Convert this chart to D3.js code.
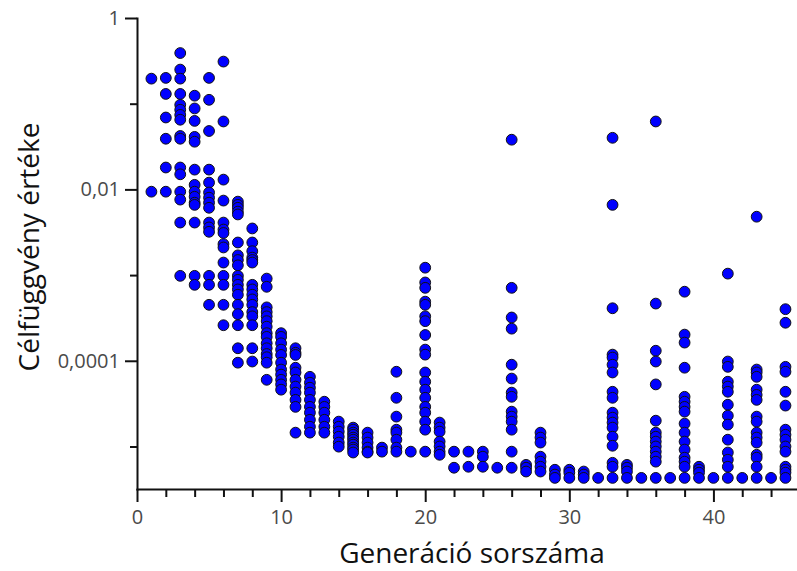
<!DOCTYPE html>
<html>
<head>
<meta charset="utf-8">
<script src="https://cdn.jsdelivr.net/npm/d3@7"></script>
<style>
  body { margin: 0; background: #fff; }
  .axis path, .axis line { stroke: #111; stroke-width: 2; }
  .axis text { fill: #4a4a4a; font-family: "Open Sans", sans-serif; font-size: 20px; font-weight: 500; }
  .title { fill: #111; font-family: "Open Sans", sans-serif; font-size: 28px; font-weight: 500; }
</style>
</head>
<body>
<div id="chart"></div>
<script>
// generation number -> objective function values of the population
const generations = [1, 2, 3, 4, 5, 6, 7, 8, 9, 10, 11, 12, 13, 14, 15, 16, 17, 18, 19, 20, 21, 22, 23,
  24, 25, 26, 27, 28, 29, 30, 31, 32, 33, 34, 35, 36, 37, 38, 39, 40, 41, 42, 43, 44, 45];

const fitness = [
  [0.196, 0.0094],
  [0.2, 0.13, 0.069, 0.039, 0.018, 0.0094],
  [0.39, 0.25, 0.196, 0.13, 0.097, 0.085, 0.074, 0.065, 0.042, 0.039, 0.018, 0.015, 0.0094, 0.0076, 0.0041, 0.00098],
  [0.124, 0.088, 0.063, 0.041, 0.036, 0.017, 0.0113, 0.0094, 0.0082, 0.007, 0.0066, 0.0041, 0.00098, 0.00077],
  [0.2, 0.111, 0.048, 0.017, 0.012, 0.0092, 0.008, 0.007, 0.0061, 0.0041, 0.0036, 0.0032, 0.00098, 0.00077, 0.00045],
  [0.31, 0.062, 0.013, 0.0074, 0.0041, 0.0034, 0.0031, 0.0023, 0.0021, 0.0014, 0.00098, 0.00077, 0.00045, 0.00026],
  [0.0072, 0.0066, 0.0061, 0.0055, 0.0051, 0.0024, 0.0017, 0.0015, 0.0013, 0.00098, 0.00088, 0.00077, 0.00068,
    0.00059, 0.00045, 0.00035, 0.00026, 0.00014, 0.000095],
  [0.0035, 0.0024, 0.0019, 0.0016, 0.0015, 0.0014, 0.00077, 0.00068, 0.00059, 0.00052, 0.00045, 0.00037, 0.00033,
    0.00026, 0.00014, 0.000098],
  [0.00091, 0.00073, 0.00042, 0.00037, 0.00033, 0.00029, 0.00025, 0.00021, 0.00019, 0.00016, 0.00014, 0.00012,
    0.00011, 0.000095, 0.00006],
  [0.00021, 0.00019, 0.00016, 0.000135, 0.000117, 0.000095, 0.000079, 0.000069, 0.00006, 0.000053, 0.000046],
  [0.00014, 0.000124, 0.000117, 0.000083, 0.000073, 0.00006, 0.00005, 0.0000425, 0.000035, 0.000029, 0.0000145],
  [0.000065, 0.0000555, 0.0000485, 0.0000425, 0.000035, 0.000029, 0.0000248, 0.0000205, 0.000017, 0.0000145],
  [0.0000333, 0.000029, 0.0000248, 0.0000205, 0.000017, 0.0000145],
  [0.0000195, 0.000017, 0.0000149, 0.000013, 0.0000111, 0.00000995],
  [0.0000166, 0.0000157, 0.0000145, 0.0000137, 0.0000127, 0.000012, 0.0000111, 0.0000105, 0.0000097, 0.0000092, 0.0000085],
  [0.0000145, 0.0000127, 0.0000111, 0.0000097, 0.0000087, 0.0000085],
  [0.0000097, 0.0000087],
  [0.0000745, 0.000037, 0.0000223, 0.0000157, 0.0000145, 0.000012, 0.0000097, 0.0000087],
  [0.0000087],
  [0.00122, 0.00082, 0.00071, 0.00049, 0.00045, 0.00033, 0.00029, 0.0002, 0.000135, 0.000118, 0.000073, 0.000057,
    0.000046, 0.000037, 0.000029, 0.0000248, 0.0000195, 0.0000157, 0.0000087],
  [0.000019, 0.0000166, 0.0000149, 0.0000114, 0.00001, 0.0000087, 0.000008],
  [0.0000087, 0.00000565],
  [0.0000087, 0.0000058],
  [0.0000087, 0.0000076, 0.0000058],
  [0.00000565],
  [0.038, 0.00071, 0.00032, 0.000237, 0.00009, 0.000062, 0.0000425, 0.000038, 0.0000255, 0.0000223, 0.0000195,
    0.0000157, 0.0000087, 0.00000565],
  [0.0000061, 0.00000565, 0.0000051],
  [0.0000145, 0.0000127, 0.0000111, 0.0000076, 0.00000665, 0.0000058, 0.0000051],
  [0.00000535, 0.0000047, 0.0000043],
  [0.00000535, 0.00000495, 0.0000043],
  [0.0000051, 0.0000047, 0.0000043],
  [0.0000043],
  [0.04, 0.0066, 0.00041, 0.000118, 0.000109, 0.00009, 0.000073, 0.0000435, 0.000037, 0.0000248, 0.0000217,
    0.000019, 0.0000166, 0.000013, 0.0000102, 0.00000645, 0.0000058, 0.0000043],
  [0.0000061, 0.00000565, 0.0000051, 0.0000043],
  [0.0000043],
  [0.062, 0.000465, 0.000131, 0.000098, 0.000053, 0.00002, 0.0000145, 0.000013, 0.0000114, 0.00001, 0.0000087,
    0.0000076, 0.00000665, 0.0000043],
  [0.0000043],
  [0.00064, 0.000202, 0.000163, 0.000083, 0.000038, 0.0000333, 0.000029, 0.0000255, 0.0000185, 0.0000145,
    0.0000114, 0.0000092, 0.0000074, 0.00000665, 0.0000058, 0.0000043],
  [0.0000058, 0.00000535, 0.00000495, 0.0000043],
  [0.0000043],
  [0.00104, 0.000098, 0.000085, 0.000057, 0.00005, 0.0000435, 0.0000307, 0.0000229, 0.000018, 0.000012,
    0.0000085, 0.000007, 0.0000058, 0.0000043],
  [0.0000043],
  [0.0048, 0.000079, 0.000073, 0.000065, 0.000046, 0.00004, 0.000035, 0.0000223, 0.0000195, 0.0000145,
    0.0000127, 0.0000111, 0.000008, 0.0000074, 0.0000058, 0.0000043],
  [0.0000043],
  [0.0004, 0.000278, 0.000085, 0.0000745, 0.0000435, 0.00003, 0.0000157, 0.0000137, 0.000012, 0.00001,
    0.0000087, 0.0000058, 0.00000535, 0.00000495, 0.0000043]
];

const xMajorTicks = [0, 10, 20, 30, 40];
const xMinorTicks = [2, 4, 6, 8, 12, 14, 16, 18, 22, 24, 26, 28, 32, 34, 36, 38, 42, 44];
const yMajorTicks = [1, 0.01, 0.0001];
const yMinorTicks = [0.1, 0.001, 0.00001];
const xLabel = "Generáció sorszáma";
const yLabel = "Célfüggvény értéke";

const width = 797, height = 571;

const points = [];
generations.forEach((g, i) => fitness[i].forEach(v => points.push({ g: g, v: v })));

const svg = d3.select("#chart").append("svg")
  .attr("width", width)
  .attr("height", height);

svg.append("rect").attr("width", width).attr("height", height).attr("fill", "#fff");

const x = d3.scaleLinear().domain([0, 45.8]).range([137, 797]);
const y = d3.scaleLog().domain([3.19e-6, 1]).range([489, 18]);

const huLocale = d3.formatLocale({ decimal: ",", thousands: " ", grouping: [3], currency: ["", " Ft"] });
const yFmt = d => huLocale.format(",")(d);

// points
svg.append("g").selectAll("circle")
  .data(points)
  .enter().append("circle")
  .attr("cx", d => x(d.g))
  .attr("cy", d => y(d.v))
  .attr("r", 5.4)
  .attr("fill", "#0000ff")
  .attr("stroke", "#111")
  .attr("stroke-width", 1);

// y axis
svg.append("g").attr("class", "axis")
  .attr("transform", "translate(137,0)")
  .call(d3.axisLeft(y).tickValues(yMinorTicks).tickSize(7).tickSizeOuter(0).tickFormat(""));
svg.append("g").attr("class", "axis")
  .attr("transform", "translate(137,0)")
  .call(d3.axisLeft(y).tickValues(yMajorTicks).tickSize(12).tickSizeOuter(0).tickPadding(5).tickFormat(yFmt))
  .select(".domain").remove();

// x axis
svg.append("g").attr("class", "axis")
  .attr("transform", "translate(0,489)")
  .call(d3.axisBottom(x).tickValues(xMinorTicks).tickSize(8).tickSizeOuter(0).tickFormat(""));
svg.append("g").attr("class", "axis")
  .attr("transform", "translate(0,489)")
  .call(d3.axisBottom(x).tickValues(xMajorTicks).tickSize(13).tickSizeOuter(0).tickPadding(8).tickFormat(d3.format("d")))
  .select(".domain").remove();

svg.selectAll(".axis .domain").attr("stroke-linecap", "square");

// titles
svg.append("text").attr("class", "title")
  .attr("x", 472).attr("y", 563)
  .attr("text-anchor", "middle")
  .text(xLabel);

svg.append("text").attr("class", "title")
  .attr("transform", "translate(39,247) rotate(-90)")
  .attr("text-anchor", "middle")
  .text(yLabel);
</script>
</body>
</html>
